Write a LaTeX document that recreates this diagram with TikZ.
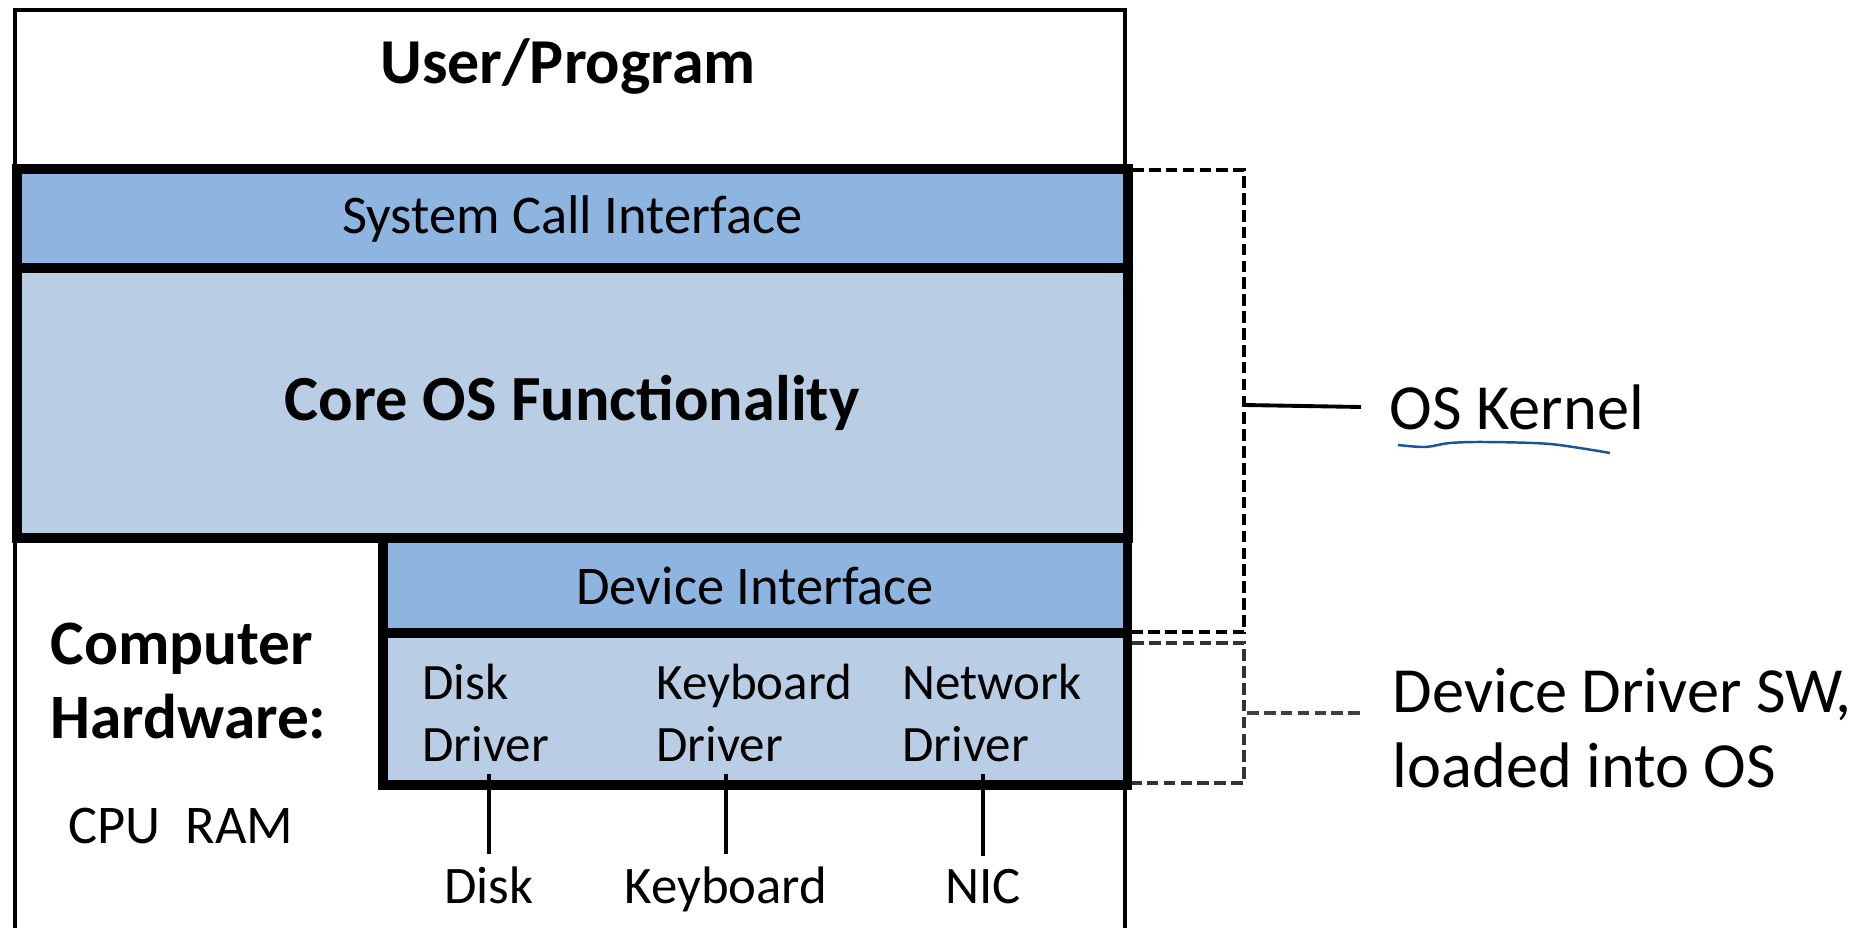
\documentclass[tikz,border=0pt]{standalone}
\usepackage{fontspec}
\setmainfont{Carlito}
\usetikzlibrary{positioning}

\definecolor{midblue}{RGB}{142,180,224}
\definecolor{paleblue}{RGB}{185,205,228}
\definecolor{penblue}{RGB}{25,85,150}

\tikzset{
    layer/.style={draw,line width=2.8pt,inner sep=0pt,outer sep=0pt,anchor=north west,font=\fontsize{15.5}{18}\selectfont},
    drv/.style={align=left,anchor=west,font=\fontsize{14.5}{17.6}\selectfont},
    dev/.style={anchor=base,font=\fontsize{15}{18}\selectfont},
    side/.style={align=left,anchor=west,inner sep=8pt,font=\fontsize{18.3}{21.3}\selectfont},
    kbrace/.style={line width=1.1pt,dash pattern=on 3.3pt off 1.5pt},
    wire/.style={line width=0.9pt}
}

\begin{document}
\begin{tikzpicture}[x=0.01cm,y=-0.01cm]
    \useasboundingbox (0,0) rectangle (1864,928);
    \draw [line width=1.1pt] (15,10) rectangle (1125,945);
    \node [font=\fontsize{18.2}{21}\selectfont\bfseries,anchor=base] (user) at (568,84) {User/Program};

    \node [layer,fill=midblue,minimum width=11.1cm,minimum height=0.99cm] (sci) at (17,169) {System Call Interface};
    \node [layer,fill=paleblue,minimum width=11.1cm,minimum height=2.7cm,font=\fontsize{18.3}{21}\selectfont\bfseries] (core) at (17,268) {Core OS Functionality};
    \node [layer,fill=midblue,minimum width=7.44cm,minimum height=0.95cm] (devif) at (383,538) {Device Interface};
    \node [layer,fill=paleblue,minimum width=7.44cm,minimum height=1.52cm] (drivers) at (383,633) {};

    \node [drv] (dskdrv) at (410,713) {Disk\\Driver};
    \node [drv] (kbddrv) at (644,713) {Keyboard\\Driver};
    \node [drv] (netdrv) at (890,713) {Network\\Driver};

    \node [dev] (dsk) at (489,903) {Disk};
    \node [dev] (kbd) at (726,903) {Keyboard};
    \node [dev] (net) at (983,903) {NIC};
    \foreach \n in {dsk,kbd,net}
    \draw [wire] (\n drv.south -| \n.north) -- (\n.north);

    \node [align=left,anchor=west,inner sep=0pt,font=\fontsize{18}{21.3}\selectfont\bfseries] (hw) at (50,681) {Computer\\Hardware:};
    \node [anchor=west,inner sep=0pt,font=\fontsize{15.5}{18}\selectfont] (cpuram) at (68,826) {CPU\ \ RAM};

    \draw [kbrace] (1132,170) -| (1244,632) -- (1132,632);
    \draw [kbrace,black!80] (1132,643) -| (1244,783) -- (1132,783);
    \coordinate (kjoin) at (1244,405);
    \coordinate (djoin) at (1247,713);
    \node [side] (kern) at (1361,407) {OS Kernel};
    \node [side] (dsw) at (1364,728) {Device Driver SW,\\loaded into OS};
    \draw [line width=1.1pt] (kjoin) -- (kern.west);
    \draw [kbrace,black!75] (djoin) -- (djoin -| dsw.west);
    \draw [penblue,line width=0.7pt] plot [smooth] coordinates {(1398,445) (1425,447) (1450,443) (1485,442) (1550,444) (1610,453)};
\end{tikzpicture}
\end{document}
